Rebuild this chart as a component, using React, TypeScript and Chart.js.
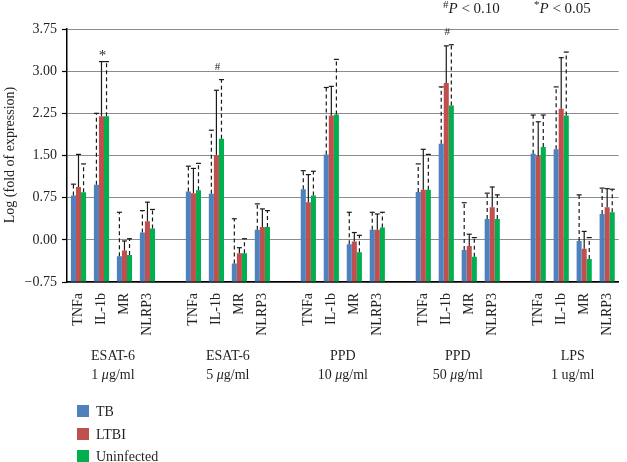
import React, { useEffect, useRef } from "react";
import { Chart, registerables } from "chart.js";

Chart.register(...registerables);

// ---- data ----
const genes = ["TNFa", "IL-1b", "MR", "NLRP3"];
const groupNames = ["ESAT-6", "ESAT-6", "PPD", "PPD", "LPS"];
const groupDoseNumbers = ["1", "5", "10", "50", "1"];
const groupDoseUnits = ["μg/ml", "μg/ml", "μg/ml", "μg/ml", "ug/ml"];
const seriesNames = ["TB", "LTBI", "Uninfected"];
const seriesColors = ["#4F81BD", "#C0504D", "#00B050"];

const tbValues = [0.79, 0.98, -0.29, 0.13, 0.86, 0.82, -0.42, 0.18, 0.9, 1.52, -0.08, 0.18, 0.85, 1.71, -0.18, 0.37, 1.53, 1.61, -0.02, 0.46];
const tbUpper = [0.99, 2.25, 0.49, 0.52, 1.31, 1.95, 0.375, 0.64, 1.23, 2.71, 0.49, 0.49, 1.35, 2.72, 0.66, 0.83, 2.22, 2.72, 0.8, 0.92];
const ltbiValues = [0.94, 2.2, -0.19, 0.33, 0.83, 1.51, -0.24, 0.23, 0.67, 2.21, -0.03, 0.18, 0.89, 2.79, -0.11, 0.58, 1.49, 2.33, -0.16, 0.58];
const ltbiUpper = [1.52, 3.17, -0.02, 0.67, 1.27, 2.66, -0.14, 0.55, 1.16, 2.73, 0.13, 0.46, 1.61, 3.45, 0.1, 0.94, 2.1, 3.24, 0.15, 0.91];
const uninValues = [0.845, 2.2, -0.27, 0.2, 0.88, 1.8, -0.24, 0.23, 0.79, 2.23, -0.22, 0.22, 0.89, 2.39, -0.3, 0.37, 1.65, 2.21, -0.34, 0.49];
const uninUpper = [1.35, 3.17, 0.02, 0.54, 1.36, 2.85, 0.02, 0.52, 1.22, 3.21, 0.08, 0.49, 1.52, 3.47, 0.04, 0.8, 2.22, 3.34, 0.04, 0.9];

const yMin = -0.75;
const yMax = 3.75;
const yStep = 0.75;

// significance markers: slot (category index incl. gaps), symbol, value
const markerSlots = [1, 6, 16];
const markerSymbols = ["*", "#", "#"];
const markerValues = [3.32, 3.07, 3.7];

// ---- build ----
const categories: string[] = [];
groupNames.forEach((_, g) => {
  genes.forEach((gn) => categories.push(gn));
  if (g < groupNames.length - 1) categories.push("");
});

function pad(arr: number[]): (number | null)[] {
  const out: (number | null)[] = [];
  for (let g = 0; g < groupNames.length; g++) {
    for (let k = 0; k < genes.length; k++) out.push(arr[g * genes.length + k]);
    if (g < groupNames.length - 1) out.push(null);
  }
  return out;
}

const values = [tbValues, ltbiValues, uninValues].map(pad);
const uppers = [tbUpper, ltbiUpper, uninUpper].map(pad);
const dashed = [true, false, true];

const FONT = "'Liberation Serif', 'DejaVu Serif', serif";
const TEXT = "#231F20";

const extrasPlugin = {
  id: "extras",
  afterDatasetsDraw(chart: any) {
    const ctx = chart.ctx as CanvasRenderingContext2D;
    const y = chart.scales.y;
    ctx.save();
    // error bars
    for (let i = 0; i < 3; i++) {
      const meta = chart.getDatasetMeta(i);
      meta.data.forEach((bar: any, j: number) => {
        const up = uppers[i][j];
        const v = values[i][j];
        if (up == null || v == null) return;
        const x = bar.x;
        const y0 = bar.y;
        const y1 = y.getPixelForValue(up);
        ctx.strokeStyle = "#1a1a1a";
        ctx.lineWidth = 1.2;
        ctx.setLineDash(dashed[i] ? [4, 3] : []);
        ctx.beginPath();
        ctx.moveTo(x, y0);
        ctx.lineTo(x, y1);
        ctx.stroke();
        ctx.setLineDash([]);
        ctx.beginPath();
        ctx.moveTo(x - 2.5, y1);
        ctx.lineTo(x + 2.5, y1);
        ctx.stroke();
      });
    }
    ctx.restore();
  },
  afterDraw(chart: any) {
    const ctx = chart.ctx as CanvasRenderingContext2D;
    const xs = chart.scales.x;
    const ys = chart.scales.y;
    ctx.save();
    ctx.fillStyle = TEXT;
    ctx.textBaseline = "middle";

    // markers
    markerSlots.forEach((slot, i) => {
      const sym = markerSymbols[i];
      ctx.font = (sym === "*" ? "15px " : "11px ") + FONT;
      ctx.textAlign = "center";
      ctx.fillText(sym, xs.getPixelForValue(slot) + 1, ys.getPixelForValue(markerValues[i]) + (sym === "*" ? 3 : 0));
    });

    // group labels
    groupNames.forEach((name, g) => {
      const cx = (xs.getPixelForValue(g * 5 + 1) + xs.getPixelForValue(g * 5 + 2)) / 2;
      ctx.font = "14px " + FONT;
      ctx.textAlign = "center";
      ctx.fillText(name, cx, 356);
      const num = groupDoseNumbers[g] + " ";
      const unit = groupDoseUnits[g];
      let mu = "";
      let rest = unit;
      if (unit.startsWith("μ")) {
        mu = "μ";
        rest = unit.slice(1);
      }
      ctx.font = "14px " + FONT;
      const wNum = ctx.measureText(num).width;
      const wRest = ctx.measureText(rest).width;
      ctx.font = "italic 14px " + FONT;
      const wMu = mu ? ctx.measureText(mu).width : 0;
      let x0 = cx - (wNum + wMu + wRest) / 2;
      ctx.textAlign = "left";
      ctx.font = "14px " + FONT;
      ctx.fillText(num, x0, 375);
      x0 += wNum;
      if (mu) {
        ctx.font = "italic 14px " + FONT;
        ctx.fillText(mu, x0, 375);
        x0 += wMu;
      }
      ctx.font = "14px " + FONT;
      ctx.fillText(rest, x0, 375);
    });

    // legend
    const legY = [411, 434, 456];
    seriesNames.forEach((n, i) => {
      ctx.fillStyle = seriesColors[i];
      ctx.fillRect(77, legY[i] - 6, 12, 12);
      ctx.fillStyle = TEXT;
      ctx.font = "14px " + FONT;
      ctx.textAlign = "left";
      ctx.fillText(n, 96, legY[i] + 1);
    });

    // p-value notes
    const notes = [
      { sym: "#", x: 443, t: " < 0.10" },
      { sym: "*", x: 534, t: " < 0.05" },
    ];
    notes.forEach((n) => {
      let x = n.x;
      ctx.textAlign = "left";
      ctx.font = "11px " + FONT;
      ctx.fillText(n.sym, x, 5);
      x += ctx.measureText(n.sym).width;
      ctx.font = "italic 15px " + FONT;
      ctx.fillText("P", x, 9);
      x += ctx.measureText("P").width;
      ctx.font = "15px " + FONT;
      ctx.fillText(n.t, x, 9);
    });

    // y title
    ctx.save();
    ctx.translate(10, 155);
    ctx.rotate(-Math.PI / 2);
    ctx.textAlign = "center";
    ctx.font = "14px " + FONT;
    ctx.fillText("Log (fold of expression)", 0, 0);
    ctx.restore();

    ctx.restore();
  },
};

export default function App() {
  const ref = useRef<HTMLCanvasElement>(null);
  useEffect(() => {
    if (!ref.current) return;
    const chart = new Chart(ref.current, {
      type: "bar",
      data: {
        labels: categories,
        datasets: seriesNames.map((n, i) => ({
          label: n,
          data: values[i],
          backgroundColor: seriesColors[i],
          borderWidth: 0,
          base: yMin,
          categoryPercentage: 0.66,
          barPercentage: 1.0,
        })),
      },
      options: {
        responsive: false,
        animation: false,
        devicePixelRatio: 1,
        layout: { padding: { top: 29, left: 0, right: 1, bottom: 0 } },
        plugins: {
          legend: { display: false },
          tooltip: { enabled: false },
          title: { display: false },
        },
        scales: {
          x: {
            grid: { display: false },
            border: { display: true, color: "#000", width: 1.5 },
            ticks: {
              autoSkip: false,
              maxRotation: 90,
              minRotation: 90,
              padding: 3,
              color: TEXT,
              font: { family: FONT, size: 14 },
            },
            afterFit: (s: any) => {
              s.height = 180;
            },
          },
          y: {
            min: yMin,
            max: yMax,
            ticks: {
              stepSize: yStep,
              color: TEXT,
              padding: 5,
              font: { family: FONT, size: 14 },
              callback: (v: any) => {
                const n = Number(v);
                const s = Math.abs(n).toFixed(2);
                return n < 0 ? "−" + s : s;
              },
            },
            grid: {
              color: "#8c8c8c",
              lineWidth: 1,
              borderDash: [1.5, 6.5],
              tickColor: "#000",
              tickBorderDash: [],
              tickLength: 5,
              tickWidth: 1.2,
            } as any,
            border: { display: true, color: "#000", width: 1.5 },
            afterFit: (s: any) => {
              s.width = 67;
            },
          },
        },
      },
      plugins: [extrasPlugin],
    } as any);
    return () => chart.destroy();
  }, []);
  return (
    <div style={{ position: "absolute", left: 0, top: 0, width: 627, height: 462, background: "#fff" }}>
      <canvas ref={ref} width={627} height={462} style={{ display: "block" }} />
    </div>
  );
}
